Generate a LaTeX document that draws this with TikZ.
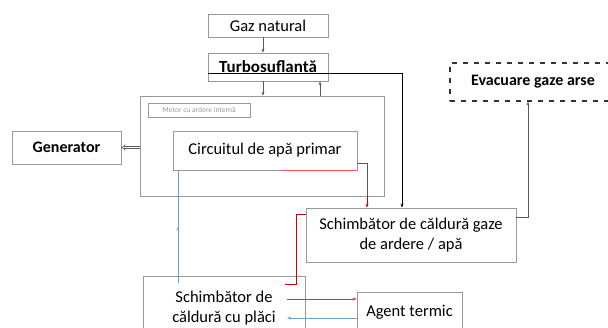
\documentclass[tikz,border=0pt]{standalone}
\usepackage{fontspec}
\setmainfont{Carlito}
\usetikzlibrary{arrows.meta,calc,decorations.markings}
\begin{document}
\begin{tikzpicture}[x=1pt,y=-1pt,
  >={Stealth[length=4pt,width=3pt]},
  box/.style={draw=gray!80, line width=0.7pt, inner sep=0pt, align=center, text=black,
              font=\fontsize{16.5}{20}\selectfont},
  boldbox/.style={box, font=\fontsize{16}{20}\selectfont\bfseries},
  conn/.style={gray!70!black, line width=0.6pt},
  redconn/.style={red!80!black, line width=0.7pt},
  blueconn/.style={cyan!45!gray, line width=0.6pt},
  midarrow/.style={postaction={decorate}, decoration={markings,
     mark=at position 0.5 with {\arrow{Stealth[length=4pt,width=3pt]}}}}
]
\useasboundingbox (0,0) rectangle (608,327);
\clip (0,0) rectangle (608,327);

% nodes
\node[box, minimum width=120pt, minimum height=23pt] (gaz) at (268,25.5) {Gaz natural};
\node[boldbox, minimum width=120pt, minimum height=28pt, font=\fontsize{17}{20}\selectfont\bfseries] (turbo) at (268,67) {Turbosuflantă};
\node[box, minimum width=244pt, minimum height=100pt] (engine) at (262,146) {};
\node[box, minimum width=102pt, minimum height=14pt, font=\fontsize{7.5}{8}\selectfont, text=gray!80] (motor) at (199,110) {Motor cu ardere internă};
\node[box, minimum width=184pt, minimum height=39pt] (circ) at (265,150.5) {Circuitul de apă primar};
\node[boldbox, minimum width=109pt, minimum height=33pt] (gen) at (66.5,147.5) {Generator};
\node[boldbox, draw=gray!40!black, dash pattern=on 5pt off 6pt, line width=1.3pt,
      minimum width=166pt, minimum height=38pt] (evac) at (533,82) {Evacuare gaze arse};
\node[box, minimum width=210pt, minimum height=54pt] (sgaze) at (411,235) {Schimbător de căldură gaze\\de ardere / apă};
\node[box, minimum width=162pt, minimum height=64pt] (placi) at (224,308) {Schimbător de\\căldură cu plăci};
\node[box, minimum width=105pt, minimum height=40pt] (agent) at (409.5,312) {Agent termic};

% connectors
\draw[conn,->] ([xshift=-5pt]gaz.south) -- ([xshift=-5pt]turbo.north);
\draw[conn,->] ([xshift=-5pt]turbo.south) -- ([xshift=-5pt]turbo.south |- engine.north);
\draw[conn,->] ([xshift=52pt]turbo.south |- engine.north) -- ([xshift=52pt]turbo.south);

\coordinate (tk) at (402,73);
\draw[black, line width=0.9pt, ->] ([yshift=-6pt]turbo.west) -- (tk) -- (tk |- sgaze.north);

\coordinate (cr) at (367,163);
\draw[conn] ([yshift=-12.5pt]circ.east) -- (cr) -- (cr |- engine.south);
\draw[redconn,->] (cr |- engine.south) -- (cr |- sgaze.north);
\draw[red!70, line width=0.8pt] ([xshift=17pt]circ.south) -- (circ.south east);

\coordinate (rl) at (296,214);
\coordinate (rb) at (296,284);
\coordinate (re) at (285,284);
\draw[redconn] ([yshift=21pt]sgaze.west) -- (rl) -- (rb) -- (re);

\coordinate (ra) at (287,299);
\draw[red!85, line width=0.7pt, ->] (ra) -- (ra -| agent.west);
\coordinate (ba) at (287,318);
\draw[blueconn,->] (ba -| agent.west) -- (ba);

\coordinate (bv) at (178,283);
\draw[blueconn, midarrow] (bv) -- (bv |- circ.south);

\coordinate (ev) at (528,217);
\draw[conn,->] ([yshift=18pt]sgaze.east) -- (ev) -- (ev |- evac.south);

\draw[conn, double, double distance=1.5pt, -{Implies}] (engine.west |- gen.east) -- (gen.east);
\end{tikzpicture}
\end{document}
